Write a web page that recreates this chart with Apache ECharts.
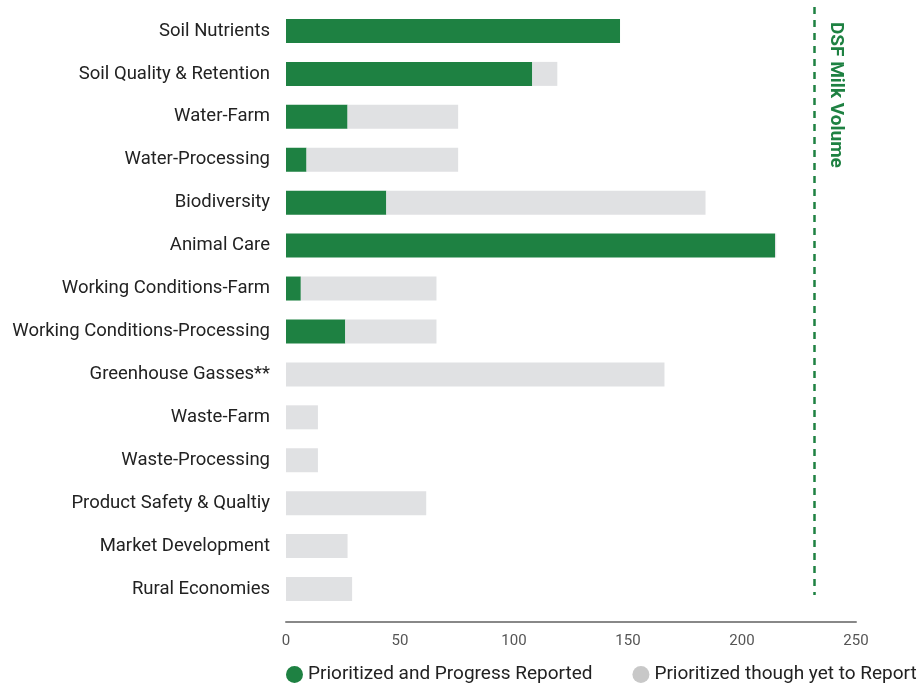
<!DOCTYPE html>
<html>
<head>
<meta charset="utf-8">
<script src="https://cdn.jsdelivr.net/npm/echarts@6/dist/echarts.min.js"></script>
<style>
html,body{margin:0;padding:0;background:#fff;}
#chart{width:920px;height:684px;}
</style>
</head>
<body>
<div id="chart"></div>
<script>
const categories = ['Soil Nutrients','Soil Quality & Retention','Water-Farm','Water-Processing','Biodiversity','Animal Care','Working Conditions-Farm','Working Conditions-Processing','Greenhouse Gasses**','Waste-Farm','Waste-Processing','Product Safety & Qualtiy','Market Development','Rural Economies'];
const progressReported = [146.5, 108, 27, 9, 44, 214.5, 6.5, 26, 0, 0, 0, 0, 0, 0];
const yetToReport = [0, 11, 48.5, 66.5, 140, 0.5, 59.5, 40, 166, 14, 14, 61.5, 27, 29];
const milkVolume = 231.6;
const milkLabel = 'DSF Milk Volume';
const xTicks = [0, 50, 100, 150, 200, 250];

const green = '#1e8142';
const gray = '#e0e1e3';
const font = 'Roboto';

const chart = echarts.init(document.getElementById('chart'));
chart.setOption({
  animation: false,
  textStyle: {fontFamily: font},
  grid: {left: 286, right: 64, top: 9.5, bottom: 73.5, containLabel: false},
  legend: {
    bottom: 0, left: 286, width: 660, padding: 0,
    icon: 'circle', itemWidth: 17, itemHeight: 17, itemGap: 40,
    textStyle: {fontFamily: font, fontSize: 19, color: '#222'},
    data: [
      {name: 'Prioritized and Progress Reported', itemStyle: {color: green}},
      {name: 'Prioritized though yet to Report', itemStyle: {color: '#c8c8c8'}}
    ]
  },
  xAxis: {
    type: 'value', min: xTicks[0], max: xTicks[xTicks.length-1], interval: 50,
    offset: 11,
    axisLine: {show: true, lineStyle: {color: '#888', width: 2}},
    axisTick: {show: false},
    splitLine: {show: false},
    axisLabel: {fontFamily: font, fontSize: 15, color: '#555', margin: 12}
  },
  yAxis: {
    type: 'category', data: categories, inverse: true,
    axisLine: {show: false}, axisTick: {show: false},
    axisLabel: {fontFamily: font, fontSize: 18.5, color: '#222', margin: 16}
  },
  series: [
    {
      name: 'Prioritized and Progress Reported', type: 'bar', stack: 'a',
      barWidth: 24, itemStyle: {color: green}, data: progressReported
    },
    {
      name: 'Prioritized though yet to Report', type: 'bar', stack: 'a',
      barWidth: 24, itemStyle: {color: gray}, data: yetToReport
    }
  ]
});
const px = chart.convertToPixel({xAxisIndex: 0}, milkVolume);
chart.setOption({
  series: [{
    markLine: {
      silent: true, symbol: 'none',
      lineStyle: {color: green, type: [7, 6], width: 2.5},
      label: {show: false},
      data: [[{x: px, y: 7}, {x: px, y: 595}]]
    }
  }],
  graphic: [{
    type: 'text', x: px + 22, y: 22, rotation: -Math.PI / 2,
    style: {text: milkLabel, fill: green, font: 'bold 19px Roboto', textAlign: 'left', textVerticalAlign: 'middle'}
  }]
});
</script>
</body>
</html>
